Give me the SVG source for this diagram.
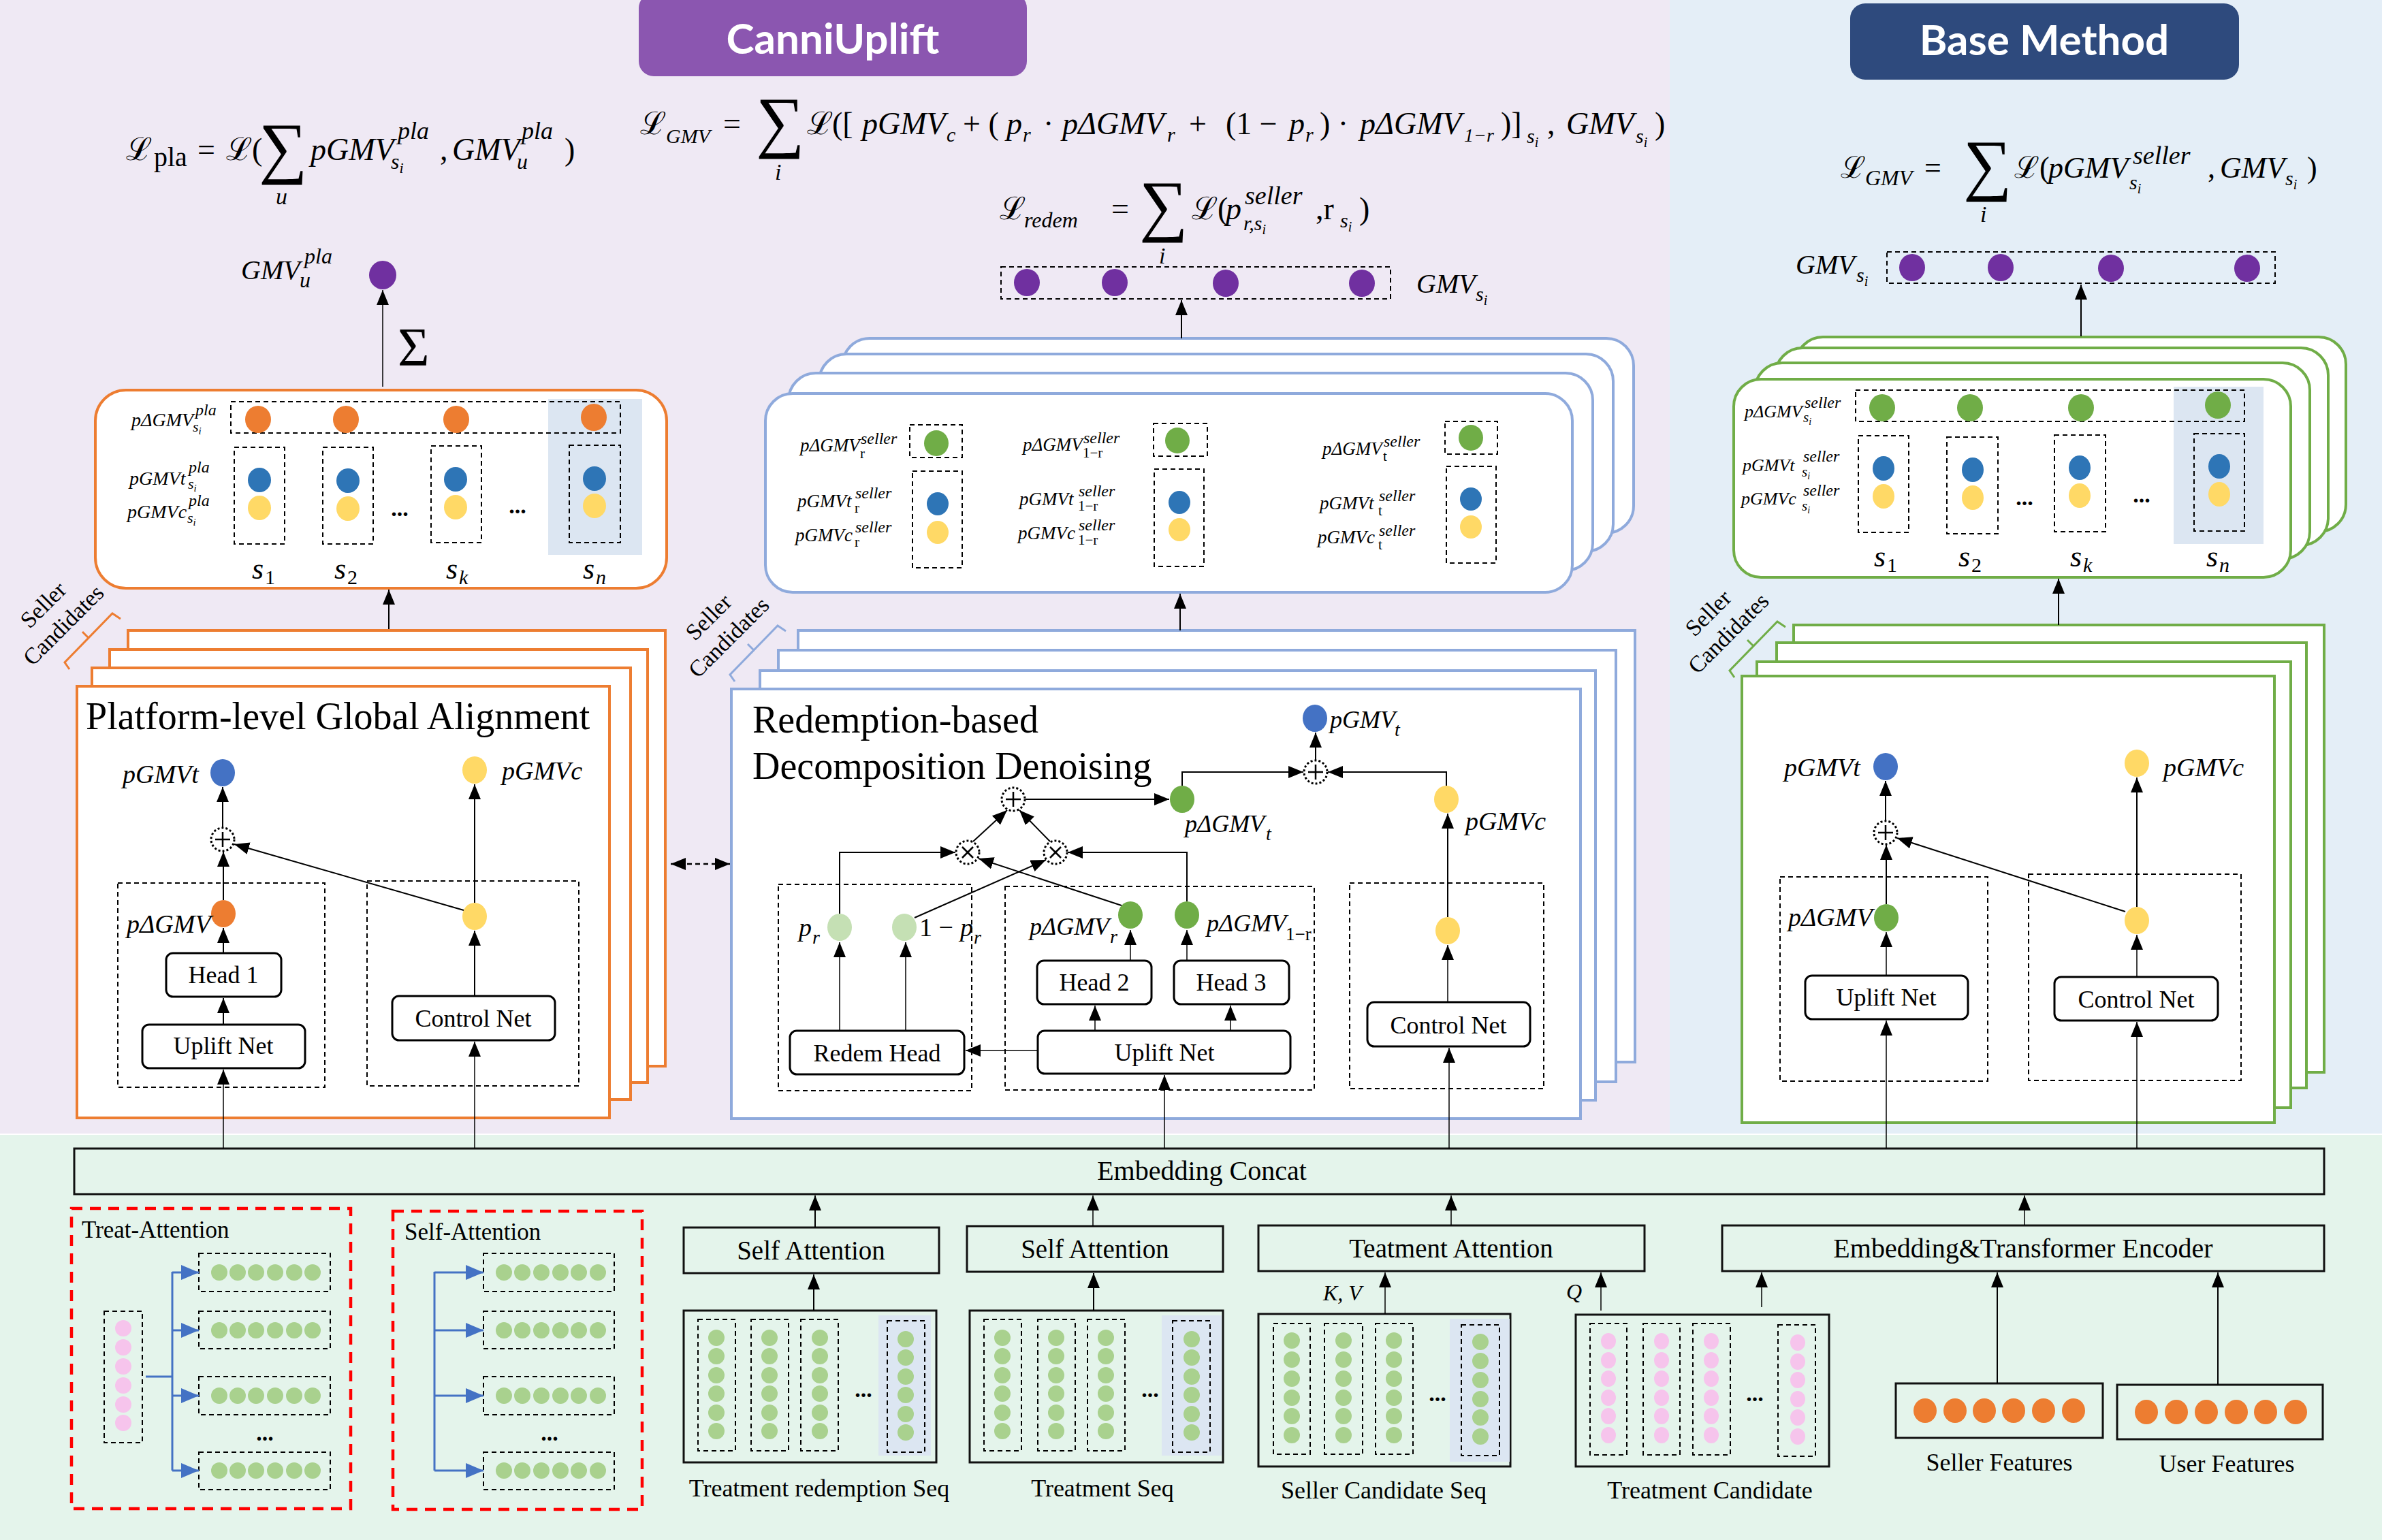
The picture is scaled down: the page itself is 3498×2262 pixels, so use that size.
<svg xmlns="http://www.w3.org/2000/svg" width="3498" height="2262" viewBox="0 0 3498 2262">
<defs>
<marker id="ah" markerUnits="userSpaceOnUse" markerWidth="24" markerHeight="20" refX="22" refY="9" orient="auto"><path d="M0,0 L22,9 L0,18 z" fill="#000"/></marker>
<marker id="ahd" markerUnits="userSpaceOnUse" markerWidth="24" markerHeight="20" refX="22" refY="9" orient="auto-start-reverse"><path d="M0,0 L22,9 L0,18 z" fill="#000"/></marker>
<marker id="ahb" markerUnits="userSpaceOnUse" markerWidth="28" markerHeight="24" refX="26" refY="11" orient="auto"><path d="M0,0 L26,11 L0,22 z" fill="#4472C4"/></marker>
</defs>
<style>
.sf{font-family:"Liberation Serif","Times New Roman",serif;fill:#000}
.m{font-family:"Liberation Serif","Times New Roman",serif;font-style:italic;fill:#000}
.u{font-style:normal}
.c{text-anchor:middle}
.nb{fill:#fff;stroke:#000;stroke-width:3}
.dsh{fill:none;stroke:#000;stroke-width:2;stroke-dasharray:7 5}
.ln{fill:none;stroke:#000;stroke-width:2}
.thin{fill:none;stroke:#000;stroke-width:1.5}
.a{marker-end:url(#ah)}
.bl{fill:none;stroke:#4472C4;stroke-width:3;marker-end:url(#ahb)}
.blo{fill:none;stroke:#4472C4;stroke-width:3}
.bx{fill:none;stroke:#111;stroke-width:3}
.red{fill:none;stroke:#FF0000;stroke-width:4.5;stroke-dasharray:16 11}
.or{fill:#fff;stroke:#ED7D31;stroke-width:4}
.bs{fill:#fff;stroke:#8FAADC;stroke-width:4}
.gs{fill:#fff;stroke:#70AD47;stroke-width:4}
.od{fill:#ED7D31}.bd{fill:#2E75B6}.bd2{fill:#4472C4}.yd{fill:#FFD966}.gd{fill:#70AD47}.lg{fill:#C5E0B4}.pd{fill:#7030A0}.sq{fill:#A9D18E}.pk{fill:#F6C4EC}
.hl{fill:#DCE6F2}
.op{fill:#fff;stroke:#000;stroke-width:3;stroke-dasharray:3 3}
.opx{stroke:#000;stroke-width:2.5;fill:none}
.dots{font-family:"Liberation Serif",serif;font-weight:bold;font-size:34px;text-anchor:middle}
</style>

<!-- backgrounds -->
<rect x="0" y="0" width="2452" height="1666" fill="#EFE9F4"/>
<rect x="2452" y="0" width="1046" height="1666" fill="#E4EEF7"/>
<rect x="0" y="1666" width="3498" height="596" fill="#E4F4EB"/>
<line x1="0" y1="1666" x2="3498" y2="1666" stroke="#fff" stroke-width="2"/>

<!-- titles -->
<g id="title-canniuplift">
<rect x="938" y="-10" width="570" height="122" rx="22" fill="#8B56B0"/>
<text x="1223" y="79" font-family="Lato,'Open Sans',sans-serif" font-weight="700" font-size="62" fill="#fff" text-anchor="middle">CanniUplift</text>
</g>
<g id="title-base">
<rect x="2717" y="5" width="571" height="112" rx="22" fill="#2E4A7D"/>
<text x="3002" y="81" font-family="Lato,'Open Sans',sans-serif" font-weight="700" font-size="62" fill="#fff" text-anchor="middle">Base Method</text>
</g>

<!-- formulas -->
<g id="formula-pla">
<text class="m" font-size="46"><tspan x="185" y="235" class="u">ℒ</tspan><tspan x="226" y="244" class="u" font-size="40">pla</tspan><tspan x="290" y="235" class="u">=</tspan><tspan x="332" y="235" class="u">ℒ(</tspan><tspan x="456" y="235">pGMV</tspan><tspan x="584" y="204" font-size="36">pla</tspan><tspan x="574" y="248" font-size="32">s</tspan><tspan font-size="22" dy="6">i</tspan><tspan x="646" y="235" class="u">,</tspan><tspan x="664" y="235">GMV</tspan><tspan x="766" y="204" font-size="36">pla</tspan><tspan x="759" y="248" font-size="32">u</tspan><tspan x="829" y="235" class="u">)</tspan></text>
<text class="sf" x="380" y="250" font-size="100">∑</text>
<text class="m" x="405" y="300" font-size="34">u</text>
</g>
<g id="formula-gmv">
<text class="m" font-size="46"><tspan x="940" y="197" class="u">ℒ</tspan><tspan x="978" y="210" font-size="30">GMV</tspan><tspan x="1062" y="197" class="u">=</tspan><tspan x="1185" y="197" class="u">ℒ</tspan><tspan x="1222" y="197" class="u">([</tspan><tspan x="1266" y="197">pGMV</tspan><tspan x="1390" y="208" font-size="30">c</tspan><tspan x="1414" y="197" class="u">+ (</tspan><tspan x="1478" y="197">p</tspan><tspan x="1502" y="208" font-size="30">r</tspan><tspan x="1532" y="197" class="u">·</tspan><tspan x="1560" y="197">pΔGMV</tspan><tspan x="1714" y="208" font-size="30">r</tspan><tspan x="1746" y="197" class="u">+</tspan><tspan x="1800" y="197" class="u">(1 −</tspan><tspan x="1893" y="197">p</tspan><tspan x="1917" y="208" font-size="30">r</tspan><tspan x="1938" y="197" class="u">) ·</tspan><tspan x="1997" y="197">pΔGMV</tspan><tspan x="2150" y="208" font-size="28">1−r</tspan><tspan x="2204" y="197" class="u">)]</tspan><tspan x="2242" y="210" font-size="30">s</tspan><tspan font-size="20" dy="6">i</tspan><tspan x="2272" y="197" class="u">,</tspan><tspan x="2300" y="197">GMV</tspan><tspan x="2402" y="210" font-size="30">s</tspan><tspan font-size="20" dy="6">i</tspan><tspan x="2430" y="197" class="u">)</tspan></text>
<text class="sf" x="1110" y="212" font-size="100">∑</text>
<text class="m" x="1138" y="264" font-size="34">i</text>
</g>
<g id="formula-redem">
<text class="m" font-size="46"><tspan x="1468" y="322" class="u">ℒ</tspan><tspan x="1504" y="334" font-size="32">redem</tspan><tspan x="1632" y="322" class="u">=</tspan><tspan x="1750" y="322" class="u">ℒ(</tspan><tspan x="1800" y="322">p</tspan><tspan x="1828" y="300" font-size="38">seller</tspan><tspan x="1826" y="338" font-size="30">r,s</tspan><tspan font-size="20" dy="6">i</tspan><tspan x="1932" y="322" class="u">,r</tspan><tspan x="1968" y="334" font-size="30">s</tspan><tspan font-size="20" dy="6">i</tspan><tspan x="1996" y="322" class="u">)</tspan></text>
<text class="sf" x="1673" y="335" font-size="100">∑</text>
<text class="m" x="1702" y="387" font-size="34">i</text>
</g>
<g id="formula-base">
<text class="m" font-size="44"><tspan x="2703" y="261" class="u">ℒ</tspan><tspan x="2739" y="272" font-size="32">GMV</tspan><tspan x="2826" y="261" class="u">=</tspan><tspan x="2958" y="261" class="u">ℒ(</tspan><tspan x="3008" y="261">pGMV</tspan><tspan x="3132" y="241" font-size="38">seller</tspan><tspan x="3127" y="278" font-size="30">s</tspan><tspan font-size="20" dy="6">i</tspan><tspan x="3242" y="261" class="u">,</tspan><tspan x="3260" y="261">GMV</tspan><tspan x="3356" y="272" font-size="30">s</tspan><tspan font-size="20" dy="6">i</tspan><tspan x="3388" y="261" class="u">)</tspan></text>
<text class="sf" x="2883" y="275" font-size="100">∑</text>
<text class="m" x="2908" y="326" font-size="34">i</text>
</g>

<!-- left top output -->
<g id="gmv-u-pla">
<ellipse cx="562" cy="404" rx="20" ry="21" class="pd"/>
<text class="m" font-size="40"><tspan x="354" y="410">GMV</tspan><tspan x="447" y="387" font-size="32">pla</tspan><tspan x="440" y="422" font-size="32">u</tspan></text>
<text class="sf" x="584" y="537" font-size="80">Σ</text>
</g>

<!-- left card -->
<g id="pla-card">
<rect x="140" y="573" width="839" height="291" rx="45" class="or"/>
<rect x="805" y="586" width="138" height="229" class="hl"/>
<rect x="339" y="590" width="572" height="46" class="dsh"/>
<ellipse cx="379" cy="616" rx="19" ry="20" class="od"/><ellipse cx="508" cy="616" rx="19" ry="20" class="od"/><ellipse cx="670" cy="616" rx="19" ry="20" class="od"/><ellipse cx="872" cy="613" rx="19" ry="20" class="od"/>
<rect x="344" y="657" width="74" height="142" class="dsh"/><rect x="474" y="657" width="74" height="142" class="dsh"/><rect x="633" y="655" width="74" height="142" class="dsh"/><rect x="836" y="654" width="75" height="143" class="dsh"/>
<ellipse cx="381" cy="705" rx="17" ry="18" class="bd"/><ellipse cx="511" cy="706" rx="17" ry="18" class="bd"/><ellipse cx="669" cy="704" rx="17" ry="18" class="bd"/><ellipse cx="873" cy="703" rx="17" ry="18" class="bd"/>
<ellipse cx="381" cy="746" rx="17" ry="18" class="yd"/><ellipse cx="511" cy="747" rx="17" ry="18" class="yd"/><ellipse cx="669" cy="745" rx="17" ry="18" class="yd"/><ellipse cx="873" cy="743" rx="17" ry="18" class="yd"/>
<text class="dots" x="587" y="758">...</text><text class="dots" x="760" y="754">...</text>
<text class="m" font-size="28"><tspan x="193" y="626">pΔGMV</tspan><tspan x="287" y="610" font-size="24">pla</tspan><tspan x="283" y="634" font-size="22">s</tspan><tspan font-size="15" dy="4">i</tspan></text>
<text class="m" font-size="28"><tspan x="190" y="712">pGMVt</tspan><tspan x="277" y="694" font-size="24">pla</tspan><tspan x="276" y="718" font-size="22">s</tspan><tspan font-size="15" dy="4">i</tspan></text>
<text class="m" font-size="28"><tspan x="187" y="761">pGMVc</tspan><tspan x="277" y="743" font-size="24">pla</tspan><tspan x="275" y="768" font-size="22">s</tspan><tspan font-size="15" dy="4">i</tspan></text>
<text class="m" font-size="44"><tspan x="370" y="850">s</tspan><tspan x="389" y="858" class="u" font-size="30">1</tspan><tspan x="491" y="850">s</tspan><tspan x="510" y="858" class="u" font-size="30">2</tspan><tspan x="655" y="850">s</tspan><tspan x="674" y="858" font-size="30">k</tspan><tspan x="856" y="850">s</tspan><tspan x="875" y="858" font-size="30">n</tspan></text>
</g>

<!-- left stack -->
<g id="pla-stack">
<rect x="188" y="926" width="789" height="640" class="or"/>
<rect x="161" y="954" width="790" height="636" class="or"/>
<rect x="135" y="981" width="791" height="634" class="or"/>
<rect x="113" y="1008" width="782" height="634" class="or"/>
<text class="sf" x="126" y="1071" font-size="56">Platform-level Global Alignment</text>
<path d="M102,983 L95,973 L165,901 L177,909 M129,936 L121,928" fill="none" stroke="#ED7D31" stroke-width="3"/>
<text class="sf c" font-size="34" transform="translate(80,905) rotate(-45)"><tspan x="0" y="-12">Seller</tspan><tspan x="0" y="30">Candidates</tspan></text>
</g>
<g id="pla-uplift-group">
<rect x="173" y="1297" width="304" height="300" class="dsh"/>
<rect x="244" y="1400" width="169" height="64" rx="10" class="nb"/><text class="sf c" x="328" y="1444" font-size="36">Head 1</text>
<rect x="209" y="1505" width="239" height="64" rx="10" class="nb"/><text class="sf c" x="328" y="1548" font-size="36">Uplift Net</text>
<ellipse cx="328" cy="1342" rx="18" ry="20" class="od"/>
<text class="m" x="186" y="1370" font-size="38">pΔGMV</text>
</g>
<g id="pla-control-group">
<rect x="539" y="1294" width="311" height="301" class="dsh"/>
<rect x="576" y="1463" width="239" height="65" rx="10" class="nb"/><text class="sf c" x="695" y="1508" font-size="36">Control Net</text>
<ellipse cx="697" cy="1346" rx="18" ry="20" class="yd"/>
</g>
<g id="pla-outputs">
<ellipse cx="327" cy="1135" rx="18" ry="20" class="bd2"/>
<text class="m" x="180" y="1150" font-size="38">pGMVt</text>
<ellipse cx="697" cy="1131" rx="18" ry="20" class="yd"/>
<text class="m" x="737" y="1145" font-size="38">pGMVc</text>
<circle cx="327" cy="1233" r="17" class="op"/><path d="M316,1233 H338 M327,1222 V1244" class="opx"/>
</g>

<!-- middle top -->
<g id="gmv-si-mid">
<rect x="1470" y="392" width="572" height="47" class="dsh"/>
<ellipse cx="1508" cy="415" rx="19" ry="20" class="pd"/><ellipse cx="1637" cy="415" rx="19" ry="20" class="pd"/><ellipse cx="1800" cy="416" rx="19" ry="20" class="pd"/><ellipse cx="2000" cy="416" rx="19" ry="20" class="pd"/>
<text class="m" font-size="40"><tspan x="2080" y="430">GMV</tspan><tspan x="2167" y="442" font-size="30">s</tspan><tspan font-size="20" dy="6">i</tspan></text>
</g>
<g id="seller-card-mid">
<rect x="1237" y="497" width="1162" height="286" rx="40" class="bs"/>
<rect x="1203" y="520" width="1166" height="290" rx="40" class="bs"/>
<rect x="1158" y="548" width="1181" height="290" rx="40" class="bs"/>
<rect x="1124" y="578" width="1185" height="292" rx="40" class="bs"/>
<rect x="1336" y="624" width="77" height="48" class="dsh"/><ellipse cx="1375" cy="651" rx="18" ry="19" class="gd"/>
<rect x="1340" y="692" width="73" height="142" class="dsh"/><ellipse cx="1377" cy="740" rx="16" ry="17" class="bd"/><ellipse cx="1377" cy="782" rx="16" ry="17" class="yd"/>
<rect x="1694" y="622" width="79" height="48" class="dsh"/><ellipse cx="1729" cy="647" rx="18" ry="19" class="gd"/>
<rect x="1695" y="689" width="73" height="143" class="dsh"/><ellipse cx="1732" cy="738" rx="16" ry="17" class="bd"/><ellipse cx="1732" cy="778" rx="16" ry="17" class="yd"/>
<rect x="2122" y="619" width="77" height="48" class="dsh"/><ellipse cx="2160" cy="643" rx="18" ry="19" class="gd"/>
<rect x="2124" y="685" width="73" height="142" class="dsh"/><ellipse cx="2160" cy="733" rx="16" ry="17" class="bd"/><ellipse cx="2160" cy="774" rx="16" ry="17" class="yd"/>
<text class="m" font-size="27"><tspan x="1175" y="663">pΔGMV</tspan><tspan x="1264" y="652" font-size="24">seller</tspan><tspan x="1263" y="673" class="u" font-size="21">r</tspan></text>
<text class="m" font-size="27"><tspan x="1171" y="745">pGMVt</tspan><tspan x="1256" y="732" font-size="24">seller</tspan><tspan x="1255" y="753" class="u" font-size="21">r</tspan></text>
<text class="m" font-size="27"><tspan x="1168" y="795">pGMVc</tspan><tspan x="1256" y="782" font-size="24">seller</tspan><tspan x="1255" y="803" class="u" font-size="21">r</tspan></text>
<text class="m" font-size="27"><tspan x="1502" y="662">pΔGMV</tspan><tspan x="1591" y="651" font-size="24">seller</tspan><tspan x="1590" y="672" class="u" font-size="21">1−r</tspan></text>
<text class="m" font-size="27"><tspan x="1497" y="742">pGMVt</tspan><tspan x="1584" y="729" font-size="24">seller</tspan><tspan x="1583" y="750" class="u" font-size="21">1−r</tspan></text>
<text class="m" font-size="27"><tspan x="1495" y="792">pGMVc</tspan><tspan x="1584" y="779" font-size="24">seller</tspan><tspan x="1583" y="800" class="u" font-size="21">1−r</tspan></text>
<text class="m" font-size="27"><tspan x="1942" y="668">pΔGMV</tspan><tspan x="2032" y="656" font-size="24">seller</tspan><tspan x="2031" y="677" class="u" font-size="21">t</tspan></text>
<text class="m" font-size="27"><tspan x="1938" y="748">pGMVt</tspan><tspan x="2025" y="736" font-size="24">seller</tspan><tspan x="2024" y="757" class="u" font-size="21">t</tspan></text>
<text class="m" font-size="27"><tspan x="1935" y="798">pGMVc</tspan><tspan x="2025" y="787" font-size="24">seller</tspan><tspan x="2024" y="807" class="u" font-size="21">t</tspan></text>
</g>

<!-- middle stack -->
<g id="redem-stack">
<rect x="1172" y="926" width="1229" height="634" class="bs"/>
<rect x="1143" y="955" width="1230" height="634" class="bs"/>
<rect x="1116" y="985" width="1227" height="631" class="bs"/>
<rect x="1074" y="1012" width="1247" height="631" class="bs"/>
<text class="sf" font-size="56"><tspan x="1105" y="1076">Redemption-based</tspan><tspan x="1105" y="1144">Decomposition Denoising</tspan></text>
<path d="M1079,1001 L1072,991 L1142,919 L1154,927 M1106,954 L1098,946" fill="none" stroke="#8FAADC" stroke-width="3"/>
<text class="sf c" font-size="34" transform="translate(1057,923) rotate(-45)"><tspan x="0" y="-12">Seller</tspan><tspan x="0" y="30">Candidates</tspan></text>
</g>
<g id="redem-head-group">
<rect x="1143" y="1299" width="284" height="303" class="dsh"/>
<rect x="1160" y="1514" width="256" height="64" rx="10" class="nb"/><text class="sf c" x="1288" y="1559" font-size="36">Redem Head</text>
<ellipse cx="1233" cy="1362" rx="18" ry="20" class="lg"/>
<ellipse cx="1328" cy="1362" rx="18" ry="20" class="lg"/>
<text class="m" font-size="38"><tspan x="1173" y="1375">p</tspan><tspan x="1193" y="1386" font-size="28">r</tspan></text>
<text class="m" font-size="38"><tspan x="1350" y="1375" class="u">1 −</tspan><tspan x="1410" y="1375">p</tspan><tspan x="1430" y="1386" font-size="28">r</tspan></text>
</g>
<g id="redem-uplift-group">
<rect x="1476" y="1302" width="454" height="299" class="dsh"/>
<rect x="1524" y="1514" width="371" height="63" rx="10" class="nb"/><text class="sf c" x="1710" y="1558" font-size="36">Uplift Net</text>
<rect x="1523" y="1411" width="168" height="64" rx="10" class="nb"/><text class="sf c" x="1607" y="1455" font-size="36">Head 2</text>
<rect x="1724" y="1411" width="169" height="64" rx="10" class="nb"/><text class="sf c" x="1808" y="1455" font-size="36">Head 3</text>
<ellipse cx="1660" cy="1344" rx="18" ry="20" class="gd"/>
<ellipse cx="1743" cy="1344" rx="18" ry="20" class="gd"/>
<text class="m" font-size="36"><tspan x="1512" y="1373">pΔGMV</tspan><tspan x="1630" y="1385" font-size="28">r</tspan></text>
<text class="m" font-size="36"><tspan x="1772" y="1368">pΔGMV</tspan><tspan x="1888" y="1381" class="u" font-size="27">1−r</tspan></text>
</g>
<g id="redem-control-group">
<rect x="1982" y="1297" width="285" height="302" class="dsh"/>
<rect x="2008" y="1472" width="239" height="65" rx="10" class="nb"/><text class="sf c" x="2127" y="1518" font-size="36">Control Net</text>
<ellipse cx="2126" cy="1367" rx="18" ry="20" class="yd"/>
</g>
<g id="redem-combine">
<circle cx="1421" cy="1252" r="17" class="op"/><path d="M1413,1244 L1429,1260 M1429,1244 L1413,1260" class="opx"/>
<circle cx="1550" cy="1252" r="17" class="op"/><path d="M1542,1244 L1558,1260 M1558,1244 L1542,1260" class="opx"/>
<circle cx="1488" cy="1174" r="17" class="op"/><path d="M1477,1174 H1499 M1488,1163 V1185" class="opx"/>
<ellipse cx="1736" cy="1174" rx="18" ry="20" class="gd"/>
<text class="m" font-size="36"><tspan x="1740" y="1222">pΔGMV</tspan><tspan x="1859" y="1234" font-size="28">t</tspan></text>
<circle cx="1932" cy="1134" r="17" class="op"/><path d="M1921,1134 H1943 M1932,1123 V1145" class="opx"/>
<ellipse cx="1931" cy="1055" rx="18" ry="20" class="bd2"/>
<text class="m" font-size="36"><tspan x="1953" y="1069">pGMV</tspan><tspan x="2048" y="1081" font-size="28">t</tspan></text>
<ellipse cx="2124" cy="1174" rx="18" ry="20" class="yd"/>
<text class="m" x="2152" y="1219" font-size="38">pGMVc</text>
</g>
<g id="dashed-link">
<line x1="985" y1="1269" x2="1072" y2="1269" stroke="#000" stroke-width="2.5" stroke-dasharray="7 5" marker-start="url(#ahd)" marker-end="url(#ahd)"/>
</g>

<!-- right top -->
<g id="gmv-si-base">
<rect x="2771" y="370" width="570" height="46" class="dsh"/>
<ellipse cx="2808" cy="393" rx="19" ry="20" class="pd"/><ellipse cx="2938" cy="393" rx="19" ry="20" class="pd"/><ellipse cx="3100" cy="394" rx="19" ry="20" class="pd"/><ellipse cx="3300" cy="394" rx="19" ry="20" class="pd"/>
<text class="m" font-size="40"><tspan x="2637" y="402">GMV</tspan><tspan x="2726" y="414" font-size="30">s</tspan><tspan font-size="20" dy="6">i</tspan></text>
</g>
<g id="seller-card-base">
<rect x="2637" y="495" width="808" height="286" rx="40" class="gs"/>
<rect x="2607" y="511" width="812" height="290" rx="40" class="gs"/>
<rect x="2577" y="533" width="815" height="288" rx="40" class="gs"/>
<rect x="2546" y="557" width="818" height="291" rx="40" class="gs"/>
<rect x="3192" y="568" width="132" height="231" class="hl"/>
<rect x="2725" y="573" width="571" height="46" class="dsh"/>
<ellipse cx="2764" cy="599" rx="19" ry="20" class="gd"/><ellipse cx="2893" cy="599" rx="19" ry="20" class="gd"/><ellipse cx="3056" cy="599" rx="19" ry="20" class="gd"/><ellipse cx="3257" cy="595" rx="19" ry="20" class="gd"/>
<rect x="2729" y="640" width="74" height="142" class="dsh"/><rect x="2859" y="642" width="75" height="142" class="dsh"/><rect x="3017" y="639" width="75" height="142" class="dsh"/><rect x="3222" y="637" width="74" height="143" class="dsh"/>
<ellipse cx="2766" cy="688" rx="16" ry="18" class="bd"/><ellipse cx="2897" cy="690" rx="16" ry="18" class="bd"/><ellipse cx="3054" cy="687" rx="16" ry="18" class="bd"/><ellipse cx="3259" cy="685" rx="16" ry="18" class="bd"/>
<ellipse cx="2766" cy="729" rx="16" ry="18" class="yd"/><ellipse cx="2897" cy="731" rx="16" ry="18" class="yd"/><ellipse cx="3054" cy="728" rx="16" ry="18" class="yd"/><ellipse cx="3259" cy="726" rx="16" ry="18" class="yd"/>
<text class="dots" x="2973" y="742">...</text><text class="dots" x="3145" y="738">...</text>
<text class="m" font-size="26"><tspan x="2562" y="613">pΔGMV</tspan><tspan x="2650" y="599" font-size="24">seller</tspan><tspan x="2648" y="620" font-size="21">s</tspan><tspan font-size="14" dy="4">i</tspan></text>
<text class="m" font-size="26"><tspan x="2559" y="692">pGMVt</tspan><tspan x="2648" y="678" font-size="24">seller</tspan><tspan x="2646" y="700" font-size="21">s</tspan><tspan font-size="14" dy="4">i</tspan></text>
<text class="m" font-size="26"><tspan x="2557" y="741">pGMVc</tspan><tspan x="2648" y="728" font-size="24">seller</tspan><tspan x="2646" y="750" font-size="21">s</tspan><tspan font-size="14" dy="4">i</tspan></text>
<text class="m" font-size="44"><tspan x="2752" y="832">s</tspan><tspan x="2771" y="840" class="u" font-size="30">1</tspan><tspan x="2876" y="832">s</tspan><tspan x="2895" y="840" class="u" font-size="30">2</tspan><tspan x="3040" y="832">s</tspan><tspan x="3059" y="840" font-size="30">k</tspan><tspan x="3240" y="832">s</tspan><tspan x="3259" y="840" font-size="30">n</tspan></text>
</g>

<!-- right stack -->
<g id="base-stack">
<rect x="2634" y="918" width="779" height="657" class="gs"/>
<rect x="2609" y="944" width="778" height="654" class="gs"/>
<rect x="2580" y="972" width="784" height="655" class="gs"/>
<rect x="2558" y="993" width="782" height="656" class="gs"/>
<path d="M2547,995 L2540,985 L2610,913 L2622,921 M2574,948 L2566,940" fill="none" stroke="#70AD47" stroke-width="3"/>
<text class="sf c" font-size="34" transform="translate(2525,917) rotate(-45)"><tspan x="0" y="-12">Seller</tspan><tspan x="0" y="30">Candidates</tspan></text>
</g>
<g id="base-uplift-group">
<rect x="2614" y="1288" width="305" height="300" class="dsh"/>
<rect x="2651" y="1433" width="239" height="64" rx="10" class="nb"/><text class="sf c" x="2770" y="1477" font-size="36">Uplift Net</text>
<ellipse cx="2770" cy="1348" rx="18" ry="20" class="gd"/>
<text class="m" x="2626" y="1360" font-size="38">pΔGMV</text>
</g>
<g id="base-control-group">
<rect x="2979" y="1284" width="312" height="303" class="dsh"/>
<rect x="3017" y="1435" width="240" height="64" rx="10" class="nb"/><text class="sf c" x="3137" y="1480" font-size="36">Control Net</text>
<ellipse cx="3138" cy="1352" rx="18" ry="20" class="yd"/>
</g>
<g id="base-outputs">
<ellipse cx="2769" cy="1126" rx="18" ry="20" class="bd2"/>
<text class="m" x="2620" y="1140" font-size="38">pGMVt</text>
<ellipse cx="3138" cy="1121" rx="18" ry="20" class="yd"/>
<text class="m" x="3177" y="1140" font-size="38">pGMVc</text>
<circle cx="2769" cy="1223" r="17" class="op"/><path d="M2758,1223 H2780 M2769,1212 V1234" class="opx"/>
</g>

<!-- bottom -->
<g id="embedding-concat">
<rect x="109" y="1687" width="3304" height="67" class="bx"/>
<text class="sf c" x="1765" y="1733" font-size="40">Embedding Concat</text>
</g>
<g id="self-attention-1">
<rect x="1004" y="1803" width="375" height="67" class="bx"/>
<text class="sf c" x="1191" y="1850" font-size="39">Self Attention</text>
</g>
<g id="self-attention-2">
<rect x="1420" y="1801" width="376" height="67" class="bx"/>
<text class="sf c" x="1608" y="1848" font-size="39">Self Attention</text>
</g>
<g id="teatment-attention">
<rect x="1848" y="1800" width="567" height="67" class="bx"/>
<text class="sf c" x="2131" y="1847" font-size="39">Teatment Attention</text>
</g>
<g id="encoder">
<rect x="2529" y="1800" width="884" height="67" class="bx"/>
<text class="sf c" x="2971" y="1847" font-size="40">Embedding&amp;Transformer Encoder</text>
</g>

<g id="seq-redemption">
<rect x="1004" y="1925" width="371" height="223" class="bx"/>
<rect x="1290" y="1932" width="77" height="206" class="hl"/>
<rect x="1025" y="1938" width="55" height="193" class="dsh"/><rect x="1103" y="1938" width="55" height="193" class="dsh"/><rect x="1176" y="1938" width="55" height="193" class="dsh"/><rect x="1303" y="1940" width="55" height="193" class="dsh"/>
<g class="sq">
<circle cx="1052" cy="1965" r="12"/><circle cx="1052" cy="1992" r="12"/><circle cx="1052" cy="2020" r="12"/><circle cx="1052" cy="2047" r="12"/><circle cx="1052" cy="2075" r="12"/><circle cx="1052" cy="2102" r="12"/>
<circle cx="1130" cy="1965" r="12"/><circle cx="1130" cy="1992" r="12"/><circle cx="1130" cy="2020" r="12"/><circle cx="1130" cy="2047" r="12"/><circle cx="1130" cy="2075" r="12"/><circle cx="1130" cy="2102" r="12"/>
<circle cx="1204" cy="1965" r="12"/><circle cx="1204" cy="1992" r="12"/><circle cx="1204" cy="2020" r="12"/><circle cx="1204" cy="2047" r="12"/><circle cx="1204" cy="2075" r="12"/><circle cx="1204" cy="2102" r="12"/>
<circle cx="1330" cy="1967" r="12"/><circle cx="1330" cy="1994" r="12"/><circle cx="1330" cy="2022" r="12"/><circle cx="1330" cy="2049" r="12"/><circle cx="1330" cy="2077" r="12"/><circle cx="1330" cy="2104" r="12"/>
</g>
<text class="dots" x="1268" y="2052" font-size="26">...</text>
<text class="sf c" x="1203" y="2198" font-size="36">Treatment redemption Seq</text>
</g>
<g id="seq-treatment">
<rect x="1424" y="1925" width="372" height="223" class="bx"/>
<rect x="1706" y="1932" width="88" height="206" class="hl"/>
<rect x="1445" y="1938" width="55" height="193" class="dsh"/><rect x="1524" y="1938" width="55" height="193" class="dsh"/><rect x="1597" y="1938" width="55" height="193" class="dsh"/><rect x="1722" y="1940" width="55" height="193" class="dsh"/>
<g class="sq">
<circle cx="1472" cy="1965" r="12"/><circle cx="1472" cy="1992" r="12"/><circle cx="1472" cy="2020" r="12"/><circle cx="1472" cy="2047" r="12"/><circle cx="1472" cy="2075" r="12"/><circle cx="1472" cy="2102" r="12"/>
<circle cx="1551" cy="1965" r="12"/><circle cx="1551" cy="1992" r="12"/><circle cx="1551" cy="2020" r="12"/><circle cx="1551" cy="2047" r="12"/><circle cx="1551" cy="2075" r="12"/><circle cx="1551" cy="2102" r="12"/>
<circle cx="1624" cy="1965" r="12"/><circle cx="1624" cy="1992" r="12"/><circle cx="1624" cy="2020" r="12"/><circle cx="1624" cy="2047" r="12"/><circle cx="1624" cy="2075" r="12"/><circle cx="1624" cy="2102" r="12"/>
<circle cx="1750" cy="1967" r="12"/><circle cx="1750" cy="1994" r="12"/><circle cx="1750" cy="2022" r="12"/><circle cx="1750" cy="2049" r="12"/><circle cx="1750" cy="2077" r="12"/><circle cx="1750" cy="2104" r="12"/>
</g>
<text class="dots" x="1689" y="2052" font-size="26">...</text>
<text class="sf c" x="1619" y="2198" font-size="36">Treatment Seq</text>
</g>
<g id="seq-seller-candidate">
<rect x="1848" y="1930" width="370" height="224" class="bx"/>
<rect x="2129" y="1937" width="88" height="210" class="hl"/>
<rect x="1870" y="1944" width="54" height="192" class="dsh"/><rect x="1945" y="1944" width="56" height="192" class="dsh"/><rect x="2020" y="1944" width="55" height="192" class="dsh"/><rect x="2146" y="1946" width="56" height="192" class="dsh"/>
<g class="sq">
<circle cx="1897" cy="1969" r="12"/><circle cx="1897" cy="1997" r="12"/><circle cx="1897" cy="2025" r="12"/><circle cx="1897" cy="2053" r="12"/><circle cx="1897" cy="2080" r="12"/><circle cx="1897" cy="2108" r="12"/>
<circle cx="1973" cy="1969" r="12"/><circle cx="1973" cy="1997" r="12"/><circle cx="1973" cy="2025" r="12"/><circle cx="1973" cy="2053" r="12"/><circle cx="1973" cy="2080" r="12"/><circle cx="1973" cy="2108" r="12"/>
<circle cx="2047" cy="1969" r="12"/><circle cx="2047" cy="1997" r="12"/><circle cx="2047" cy="2025" r="12"/><circle cx="2047" cy="2053" r="12"/><circle cx="2047" cy="2080" r="12"/><circle cx="2047" cy="2108" r="12"/>
<circle cx="2174" cy="1971" r="12"/><circle cx="2174" cy="1999" r="12"/><circle cx="2174" cy="2027" r="12"/><circle cx="2174" cy="2055" r="12"/><circle cx="2174" cy="2082" r="12"/><circle cx="2174" cy="2110" r="12"/>
</g>
<text class="dots" x="2111" y="2058" font-size="26">...</text>
<text class="m" x="1943" y="1910" font-size="32">K, V</text>
<text class="sf c" x="2032" y="2201" font-size="36">Seller Candidate Seq</text>
</g>
<g id="seq-treatment-candidate">
<rect x="2314" y="1931" width="372" height="223" class="bx"/>
<rect x="2335" y="1944" width="54" height="193" class="dsh"/><rect x="2413" y="1944" width="54" height="193" class="dsh"/><rect x="2486" y="1944" width="55" height="193" class="dsh"/><rect x="2611" y="1946" width="55" height="193" class="dsh"/>
<g class="pk">
<ellipse cx="2362" cy="1970" rx="11" ry="12"/><ellipse cx="2362" cy="1998" rx="11" ry="12"/><ellipse cx="2362" cy="2025" rx="11" ry="12"/><ellipse cx="2362" cy="2053" rx="11" ry="12"/><ellipse cx="2362" cy="2080" rx="11" ry="12"/><ellipse cx="2362" cy="2108" rx="11" ry="12"/>
<ellipse cx="2440" cy="1970" rx="11" ry="12"/><ellipse cx="2440" cy="1998" rx="11" ry="12"/><ellipse cx="2440" cy="2025" rx="11" ry="12"/><ellipse cx="2440" cy="2053" rx="11" ry="12"/><ellipse cx="2440" cy="2080" rx="11" ry="12"/><ellipse cx="2440" cy="2108" rx="11" ry="12"/>
<ellipse cx="2513" cy="1970" rx="11" ry="12"/><ellipse cx="2513" cy="1998" rx="11" ry="12"/><ellipse cx="2513" cy="2025" rx="11" ry="12"/><ellipse cx="2513" cy="2053" rx="11" ry="12"/><ellipse cx="2513" cy="2080" rx="11" ry="12"/><ellipse cx="2513" cy="2108" rx="11" ry="12"/>
<ellipse cx="2640" cy="1972" rx="11" ry="12"/><ellipse cx="2640" cy="2000" rx="11" ry="12"/><ellipse cx="2640" cy="2027" rx="11" ry="12"/><ellipse cx="2640" cy="2055" rx="11" ry="12"/><ellipse cx="2640" cy="2082" rx="11" ry="12"/><ellipse cx="2640" cy="2110" rx="11" ry="12"/>
</g>
<text class="dots" x="2577" y="2058" font-size="26">...</text>
<text class="m" x="2300" y="1908" font-size="32">Q</text>
<text class="sf c" x="2511" y="2201" font-size="36">Treatment Candidate</text>
</g>
<g id="seller-features">
<rect x="2784" y="2032" width="304" height="80" class="bx"/>
<g class="od"><ellipse cx="2827" cy="2072" rx="17" ry="18"/><ellipse cx="2871" cy="2072" rx="17" ry="18"/><ellipse cx="2914" cy="2072" rx="17" ry="18"/><ellipse cx="2957" cy="2072" rx="17" ry="18"/><ellipse cx="3001" cy="2072" rx="17" ry="18"/><ellipse cx="3045" cy="2072" rx="17" ry="18"/></g>
<text class="sf c" x="2936" y="2160" font-size="36">Seller Features</text>
</g>
<g id="user-features">
<rect x="3109" y="2034" width="302" height="80" class="bx"/>
<g class="od"><ellipse cx="3152" cy="2074" rx="17" ry="18"/><ellipse cx="3196" cy="2074" rx="17" ry="18"/><ellipse cx="3240" cy="2074" rx="17" ry="18"/><ellipse cx="3284" cy="2074" rx="17" ry="18"/><ellipse cx="3327" cy="2074" rx="17" ry="18"/><ellipse cx="3371" cy="2074" rx="17" ry="18"/></g>
<text class="sf c" x="3270" y="2162" font-size="36">User Features</text>
</g>

<g id="treat-attention">
<rect x="105" y="1775" width="410" height="441" class="red"/>
<text class="sf" x="120" y="1818" font-size="35">Treat-Attention</text>
<rect x="153" y="1926" width="56" height="193" class="dsh"/>
<g class="pk"><ellipse cx="181" cy="1951" rx="12" ry="12"/><ellipse cx="181" cy="1979" rx="12" ry="12"/><ellipse cx="181" cy="2007" rx="12" ry="12"/><ellipse cx="181" cy="2035" rx="12" ry="12"/><ellipse cx="181" cy="2063" rx="12" ry="12"/><ellipse cx="181" cy="2090" rx="12" ry="12"/></g>
<rect x="292" y="1841" width="193" height="56" class="dsh"/><rect x="292" y="1926" width="193" height="55" class="dsh"/><rect x="292" y="2022" width="193" height="56" class="dsh"/><rect x="292" y="2133" width="193" height="55" class="dsh"/>
<g class="sq">
<circle cx="322" cy="1869" r="12"/><circle cx="349" cy="1869" r="12"/><circle cx="376" cy="1869" r="12"/><circle cx="404" cy="1869" r="12"/><circle cx="432" cy="1869" r="12"/><circle cx="459" cy="1869" r="12"/>
<circle cx="322" cy="1954" r="12"/><circle cx="349" cy="1954" r="12"/><circle cx="376" cy="1954" r="12"/><circle cx="404" cy="1954" r="12"/><circle cx="432" cy="1954" r="12"/><circle cx="459" cy="1954" r="12"/>
<circle cx="322" cy="2050" r="12"/><circle cx="349" cy="2050" r="12"/><circle cx="376" cy="2050" r="12"/><circle cx="404" cy="2050" r="12"/><circle cx="432" cy="2050" r="12"/><circle cx="459" cy="2050" r="12"/>
<circle cx="322" cy="2160" r="12"/><circle cx="349" cy="2160" r="12"/><circle cx="376" cy="2160" r="12"/><circle cx="404" cy="2160" r="12"/><circle cx="432" cy="2160" r="12"/><circle cx="459" cy="2160" r="12"/>
</g>
<text class="dots" x="389" y="2116" font-size="28">...</text>
</g>
<g id="self-attention-box">
<rect x="577" y="1779" width="366" height="438" class="red"/>
<text class="sf" x="594" y="1821" font-size="35">Self-Attention</text>
<rect x="710" y="1841" width="192" height="56" class="dsh"/><rect x="710" y="1926" width="192" height="55" class="dsh"/><rect x="710" y="2022" width="192" height="56" class="dsh"/><rect x="710" y="2133" width="192" height="55" class="dsh"/>
<g class="sq">
<circle cx="740" cy="1869" r="12"/><circle cx="767" cy="1869" r="12"/><circle cx="795" cy="1869" r="12"/><circle cx="823" cy="1869" r="12"/><circle cx="850" cy="1869" r="12"/><circle cx="878" cy="1869" r="12"/>
<circle cx="740" cy="1954" r="12"/><circle cx="767" cy="1954" r="12"/><circle cx="795" cy="1954" r="12"/><circle cx="823" cy="1954" r="12"/><circle cx="850" cy="1954" r="12"/><circle cx="878" cy="1954" r="12"/>
<circle cx="740" cy="2050" r="12"/><circle cx="767" cy="2050" r="12"/><circle cx="795" cy="2050" r="12"/><circle cx="823" cy="2050" r="12"/><circle cx="850" cy="2050" r="12"/><circle cx="878" cy="2050" r="12"/>
<circle cx="740" cy="2160" r="12"/><circle cx="767" cy="2160" r="12"/><circle cx="795" cy="2160" r="12"/><circle cx="823" cy="2160" r="12"/><circle cx="850" cy="2160" r="12"/><circle cx="878" cy="2160" r="12"/>
</g>
<text class="dots" x="807" y="2116" font-size="28">...</text>
</g>

<!-- connectors -->
<g id="connectors">
<line x1="562" y1="568" x2="562" y2="426" class="thin a"/>
<line x1="571" y1="924" x2="571" y2="866" class="ln a"/>
<line x1="328" y1="1687" x2="328" y2="1571" class="thin a"/>
<line x1="328" y1="1505" x2="328" y2="1466" class="ln a"/>
<line x1="328" y1="1400" x2="328" y2="1363" class="ln a"/>
<line x1="328" y1="1322" x2="328" y2="1251" class="ln a"/>
<line x1="327" y1="1216" x2="327" y2="1156" class="ln a"/>
<line x1="697" y1="1687" x2="697" y2="1530" class="thin a"/>
<line x1="697" y1="1463" x2="697" y2="1367" class="ln a"/>
<line x1="697" y1="1326" x2="697" y2="1152" class="ln a"/>
<line x1="681" y1="1337" x2="344" y2="1240" class="ln a"/>

<line x1="1735" y1="497" x2="1735" y2="441" class="ln a"/>
<line x1="1733" y1="926" x2="1733" y2="872" class="ln a"/>
<line x1="1710" y1="1687" x2="1710" y2="1579" class="thin a"/>
<line x1="1524" y1="1543" x2="1418" y2="1543" class="thin a"/>
<line x1="1608" y1="1514" x2="1608" y2="1477" class="thin a"/>
<line x1="1807" y1="1514" x2="1807" y2="1477" class="thin a"/>
<line x1="1660" y1="1411" x2="1660" y2="1366" class="thin a"/>
<line x1="1743" y1="1411" x2="1743" y2="1366" class="thin a"/>
<line x1="1233" y1="1514" x2="1233" y2="1384" class="thin a"/>
<line x1="1330" y1="1514" x2="1330" y2="1384" class="thin a"/>
<polyline points="1233,1342 1233,1252 1403,1252" class="ln a"/>
<polyline points="1743,1324 1743,1252 1568,1252" class="ln a"/>
<line x1="1343" y1="1348" x2="1536" y2="1263" class="ln a"/>
<line x1="1647" y1="1330" x2="1437" y2="1261" class="ln a"/>
<line x1="1429" y1="1236" x2="1479" y2="1190" class="ln a"/>
<line x1="1542" y1="1236" x2="1497" y2="1190" class="ln a"/>
<line x1="1506" y1="1174" x2="1717" y2="1174" class="ln a"/>
<polyline points="1736,1154 1736,1134 1914,1134" class="ln a"/>
<polyline points="2124,1154 2124,1134 1950,1134" class="ln a"/>
<line x1="1932" y1="1116" x2="1932" y2="1076" class="ln a"/>
<line x1="2128" y1="1687" x2="2128" y2="1539" class="thin a"/>
<line x1="2126" y1="1472" x2="2126" y2="1388" class="thin a"/>
<line x1="2126" y1="1347" x2="2126" y2="1195" class="ln a"/>

<line x1="3056" y1="494" x2="3056" y2="418" class="ln a"/>
<line x1="3023" y1="918" x2="3023" y2="850" class="ln a"/>
<line x1="2770" y1="1687" x2="2770" y2="1499" class="thin a"/>
<line x1="2770" y1="1433" x2="2770" y2="1369" class="thin a"/>
<line x1="2770" y1="1328" x2="2770" y2="1241" class="ln a"/>
<line x1="2769" y1="1206" x2="2769" y2="1147" class="ln a"/>
<line x1="3138" y1="1687" x2="3138" y2="1501" class="thin a"/>
<line x1="3138" y1="1435" x2="3138" y2="1373" class="thin a"/>
<line x1="3138" y1="1332" x2="3138" y2="1142" class="ln a"/>
<line x1="3121" y1="1339" x2="2786" y2="1231" class="ln a"/>

<line x1="1197" y1="1803" x2="1197" y2="1756" class="ln a"/>
<line x1="1605" y1="1801" x2="1605" y2="1756" class="thin a"/>
<line x1="2131" y1="1800" x2="2131" y2="1756" class="thin a"/>
<line x1="2973" y1="1800" x2="2973" y2="1756" class="thin a"/>
<line x1="1195" y1="1925" x2="1195" y2="1872" class="ln a"/>
<line x1="1606" y1="1925" x2="1606" y2="1870" class="ln a"/>
<line x1="2034" y1="1930" x2="2034" y2="1869" class="thin a"/>
<line x1="2351" y1="1925" x2="2351" y2="1869" class="thin a"/>
<line x1="2587" y1="1920" x2="2587" y2="1869" class="thin a"/>
<line x1="2933" y1="2032" x2="2933" y2="1869" class="ln a"/>
<line x1="3257" y1="2034" x2="3257" y2="1869" class="ln a"/>

<line x1="214" y1="2022" x2="253" y2="2022" class="blo"/>
<line x1="253" y1="1868" x2="253" y2="2160" class="blo"/>
<line x1="253" y1="1869" x2="292" y2="1869" class="bl"/>
<line x1="253" y1="1954" x2="292" y2="1954" class="bl"/>
<line x1="253" y1="2050" x2="292" y2="2050" class="bl"/>
<line x1="253" y1="2160" x2="292" y2="2160" class="bl"/>
<line x1="638" y1="1868" x2="638" y2="2160" class="blo"/>
<line x1="638" y1="1869" x2="710" y2="1869" class="bl"/>
<line x1="638" y1="1954" x2="710" y2="1954" class="bl"/>
<line x1="638" y1="2050" x2="710" y2="2050" class="bl"/>
<line x1="638" y1="2160" x2="710" y2="2160" class="bl"/>
</g>
</svg>
